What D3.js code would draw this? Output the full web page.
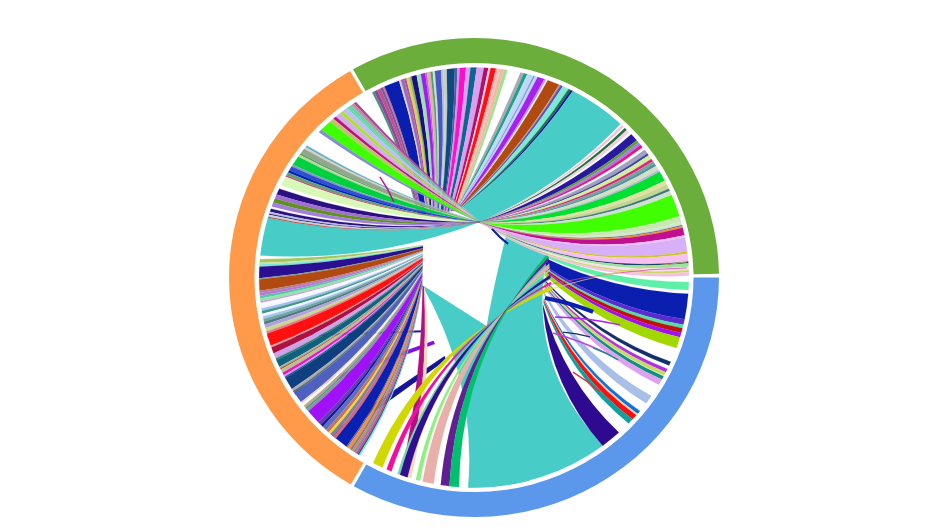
<!DOCTYPE html>
<html><head><meta charset="utf-8">
<script src="https://cdn.jsdelivr.net/npm/d3@7"></script>
<style>html,body{margin:0;background:#fff}svg{display:block;filter:blur(.55px)}</style>
</head><body><svg id="c" width="943" height="530"></svg>
<script>
// ring groups (degrees clockwise from 12 o'clock)
const groupNames=["green","blue","orange"];
const groupColors=["#6cae3c","#5b98ec","#ff9a4a"];
const groupStart=[-29.6,90,210.2];
const groupEnd=[89.1,209.4,329.6];
const TEAL="#48ccc8";

// rim stripes: "" marks a white gap
const g1Colors=["#3f9a78","#8a4a9a","#c05090","#7a5aa0","#d07090","#0a1eb0","#f0d0d0","#9070c0","#c04a90","#d8d060","#8fb858","#1a1080","#a0e0b0","#9a20f0","#c060e0","#e0b0a0","#48a080","#d0e0c0","#4858c0","#b0c0e8","#c8d0c0","#0e4a80","#5058a8","#c0a0e0","#ff10c8","#e0a0f0","#106490","#d8a0f0","#b01068","#f0d0f0","#ff1010","#f8a0a0","#f0c0c0","#f8b8a0","#a0e098"];
const g1Values=[5,8,8,6,4,35,4,8,5,7,5,12,10,10,4,8,5,5,14,5,8,18,6,5,14,10,14,16,10,5,12,4,6,8,8];
const g2Colors=["#a8a8b8","#20a080","#c0d8f8","#80a0d8","#c0d8f8","#a820f0","#c090f0","","#b04a10","#c0a090","#6050b0","#80e8d8","#108040","#2010a0"];
const g2Values=[8,8,14,4,6,16,4,4,28,3,6,14,6,5];
const g3Colors=["#f0c0d0","","#207040","#f0d0e0","","#2818a0","#60a030","#a080e0","#f01080","","#a0a0c0","#4040a0","#d0f0a0","#e02080","#80a090","#5090a8","#d0e0c0","#c0b0e0","#00e030","#e0e0a0","#c0d890","#407880","#d0e0d0","#40ff00","#c8e8b0","#d0e8d0","#607080","#f09030","#c01090","#f0c0f0","#d8b0f8","#c8c820","#f8c0f0","#104060","#a0e0a0","#f8e0f0","#c8d860","#f8c0e0"];
const g3Values=[4,3,5,6,5,14,5,6,5,6,8,4,8,5,5,5,8,4,18,8,8,4,8,40,10,6,2,3,14,4,25,4,14,3,6,6,4,6];
const o1Colors=["#a05090","#d080b0","#70d0a0","#60d8b0","#c0c0f0","#b0e020","#d0b0e8","#c01080","#c0c070","#40ff00","#8090d0","","#60b0c8","#e0d0c0","#90a890","#60a060","#c0d8a0","#00d040","#80a0c0","#3050d0","#0020c0","#60a070","#c05080","#d8f8b8","","#2a1080","#a070d0","#609020","#a080d8","","#2a1080","#c0c0e0","#102080","#d0d0d0","#c05050"];
const o1Values=[5,5,6,4,10,6,10,6,8,22,6,33,4,4,10,4,4,18,4,8,5,6,3,18,7,12,8,8,8,4,6,4,2,4,2];
const o2Colors=["#a0c860","#d8e0a0","#80e8d0","#2a1090","#80a090","#b04a10","#b08090","#c070d8","#60c0b0","#90e8a0","#c0a0e0","#f8f8ff","#a0c0f0","#409880","#f4f4ff","#a0c8f0","#70a8a0","#507880","#b0a0e0","#c8d890","#e08090","#ff1010","#e0a0a0","#b01040","#d0a0e8","#308070","#106080","#90c0a0","#e03040","#b0c890","#f010c0","#c8a0f0","#2a50a0","#0e4080","#b0a8b8","#507860","#5060c0","#e0d8d0","#f8f8f0","#c0a090","#40a080","#9090a0","#a010f8","#6040b0","#2010a0","#5870c0","#c87070","#f0e020","#8080a0","#d06880","#0a20b0","#5060a0","#f09040","#808090","#e08050","#8090a0","#e040a0","#306070","#80e0e0"];
const o2Values=[8,3,6,25,3,25,5,6,6,6,4,12,6,6,6,6,6,6,8,8,5,28,4,14,12,4,16,4,3,8,6,4,3,28,6,4,25,4,6,6,4,6,32,8,6,10,8,5,8,8,28,3,7,5,4,6,4,4,3];
const b1Colors=["#d0d800","","#f010a0","","#70d8b0","#301090","","","#90f080","","#e8b0a8","","#602090","#00c070"];
const b1Values=[24,10,12,15,6,18,6,14,10,6,26,16,20,22];
const b1bColors=["#b01080","#f8d8b8"];
const b1bValues=[10,6];
const b3Colors=["#5ff0a8","","#0a1eb0","#5a2bd0","#50e0a0","#c01010","#a010f0","#a0d800","","#14306a","","#b030e8","#c8d860","","#109080","#e0a0f0","","#a8c0e8","","#1070e0","#f8d0a0","#f81010","#10a0a0"];
const b3Values=[2.2,1,6.9,1.5,1,1.3,1.2,3,4,1.1,1,1,1,.2,1,1.6,3.6,2.4,2.6,1,.5,1.5,1.5];
const tealValues=[1];

// short ribbon fragments, in percent of the ring radius
const fragColors=["#0a1eb0","#b020f0","#14306a","#c040e0","#109080","#f03030","#e040a0","#d8d860","#c01090","#1020a0"];
const fragFrom=[[29,8.6],[33.1,16.5],[36.3,22.8],[32.2,23.2],[48.6,29.4],[40.4,39.5],[30.2,3.1],[30.2,5.2],[-38.4,-42],[7.3,-20.3]];
const fragTo=[[48.6,14.4],[59.6,19.8],[47.3,24.8],[55.5,32.4],[58.8,34.4],[51.4,47.8],[86.9,-4],[86.9,-6.5],[-32.7,-31.5],[13.9,-14]];
const fragWeights=[1.7,.6,.6,.6,.6,.6,.3,.3,.6,.9];

const P={
  apex:[2.4,-23.2], apexB:[2.6,-22.8],
  g1a:[-22.9,-26], g1b:[-6.5,-28], g2a:[-6.5,-30], g2b:[-4.5,-29.4],
  o2a:[-20.8,-13.6], o2b:[-21.2,3.1],
  w1a:[-21.2,3.1], w1b:[5.7,20.7],
  w2a:[13.5,-19], w2b:[30.2,-11.5],
  b3a:[29.5,-9.5], b3b:[28.4,10.8], indA:[28.2,11.5], indB:[28.2,13],
  b1a:[31.8,5.2], b1b:[30.2,-10.2], b1cA:[-21,3.4], b1cB:[-20,4.4]
};
// rim a0->a1, hub A->B, bow b0->b1
const fans=[
 {c:[TEAL],v:tealValues,a:[181.5,165],h:[P.w1a,P.w1b],b:[.15,.02]},
 {c:[TEAL],v:tealValues,a:[181.5,143],h:[P.w2a,P.w2b],b:[.05,.26]},
 {c:["#2e0a90"],v:tealValues,a:[143.2,137.6],h:[P.indB,P.indA],b:[.16,.14]},
 {c:["#14149a"],v:[1],a:[222,219.8],h:[[-12,32.8],[-11.5,34.4]],b:[0,0]},
 {c:["#8010e0"],v:[1],a:[237.5,236],h:[[-16.5,26.4],[-16,27.8]],b:[0,0]},
 {c:["#301090"],v:[1],a:[254,253.2],h:[[-19.6,22],[-19.6,22.8]],b:[0,0]},
 {c:g1Colors,v:g1Values,a:[-28.3,9],h:[P.g1a,P.g1b],b:[.06,.02]},
 {c:g2Colors,v:g2Values,a:[12.5,27.4],h:[P.g2a,P.g2b],b:[.02,.08]},
 {c:[TEAL],v:tealValues,a:[27.4,43],h:[P.g2b,P.apex],b:[.08,.1]},
 {c:b3Colors,v:b3Values,a:[91.2,134],h:[P.b3a,P.b3b],b:[.1,.14]},
 {c:o2Colors,v:o2Values,a:[275,212],h:[P.o2a,P.o2b],b:[.04,.11]},
 {c:b1bColors,v:b1bValues,a:[199.8,197],h:[P.b1cA,P.b1cB],b:[.05,.08]},
 {c:b1Colors,v:b1Values,a:[208,184],h:[P.b1a,P.b1b],b:[.2,.18]},
 {c:[TEAL],v:tealValues,a:[276,286.5],h:[P.apex,P.apex],b:[.11,.1]},
 {c:o1Colors,v:o1Values,a:[326.7,286.5],h:[P.apexB,P.apex],b:[.03,.1]},
 {c:g3Colors,v:g3Values,a:[43.5,89.5],h:[P.apex,P.apexB],b:[.1,.165]}
];

const svg=d3.select("#c");
const cx=474,cy=277.5;
const root=svg.append("g").attr("transform",`translate(${cx},${cy}) scale(2.45,2.395)`);
const rimR=87.7;
const rad=d=>d*Math.PI/180;
const rim=a=>[rimR*Math.sin(rad(a)),-rimR*Math.cos(rad(a))];
function ctrl(p,q,b){
  const mx=(p[0]+q[0])/2,my=(p[1]+q[1])/2;
  const dx=q[0]-p[0],dy=q[1]-p[1];
  let nx=-dy,ny=dx;
  if(nx*(-mx)+ny*(-my)<0){nx=-nx;ny=-ny;}
  return [mx+nx*b,my+ny*b];
}
function ribbon(a0,a1,h0,h1,b0,b1){
  const p=d3.path(),p0=rim(a0),p1=rim(a1);
  p.moveTo(p0[0],p0[1]);
  p.arc(0,0,rimR,rad(a0-90),rad(a1-90),a1<a0);
  const c1=ctrl(p1,h1,b1);
  p.quadraticCurveTo(c1[0],c1[1],h1[0],h1[1]);
  p.lineTo(h0[0],h0[1]);
  const c0=ctrl(h0,p0,b0);
  p.quadraticCurveTo(c0[0],c0[1],p0[0],p0[1]);
  p.closePath();
  return p.toString();
}
fans.forEach(f=>{
  const total=d3.sum(f.v);
  const A=d3.scaleLinear([0,total],f.a);
  const HX=d3.scaleLinear([0,total],[f.h[0][0],f.h[1][0]]);
  const HY=d3.scaleLinear([0,total],[f.h[0][1],f.h[1][1]]);
  const B=d3.scaleLinear([0,total],f.b);
  const cum=d3.cumsum(f.v);
  const segs=f.v.map((v,i)=>({s:cum[i]-v,e:cum[i],col:f.c[i]})).filter(d=>d.col);
  root.append("g").selectAll("path").data(segs).join("path")
    .attr("d",d=>ribbon(A(d.s),A(d.e),[HX(d.s),HY(d.s)],[HX(d.e),HY(d.e)],B(d.s),B(d.e)))
    .attr("fill",d=>d.col).attr("stroke",d=>d.col).attr("stroke-width",.06);
});
root.append("g").attr("fill","none").selectAll("path").data(fragColors).join("path")
  .attr("d",(d,i)=>{
    const p=d3.path(),a=fragFrom[i],b=fragTo[i],c=ctrl(a,b,.05);
    p.moveTo(a[0],a[1]);p.quadraticCurveTo(c[0],c[1],b[0],b[1]);
    return p.toString();
  })
  .attr("stroke",d=>d).attr("stroke-width",(d,i)=>fragWeights[i]);
const arc=d3.arc().innerRadius(89.6).outerRadius(100);
root.append("g").selectAll("path").data(groupNames).join("path")
  .attr("d",(d,i)=>arc({startAngle:rad(groupStart[i]),endAngle:rad(groupEnd[i])}))
  .attr("fill",(d,i)=>groupColors[i]);
</script></body></html>
